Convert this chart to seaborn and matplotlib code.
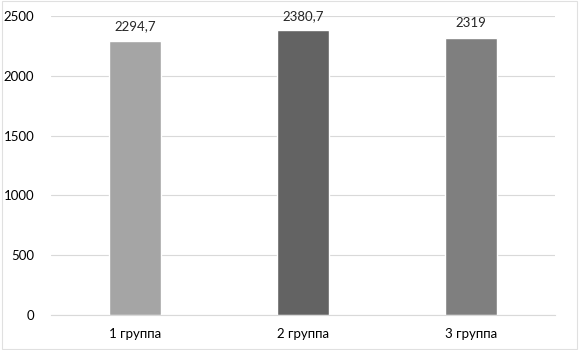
import matplotlib
matplotlib.use("Agg")
import matplotlib.pyplot as plt
import seaborn as sns
import pandas as pd

groups = ["1 группа", "2 группа", "3 группа"]
values = [2294.7, 2380.7, 2319]
labels = ["2294,7", "2380,7", "2319"]
colors = ["#A5A5A5", "#636363", "#7F7F7F"]

sns.set_style("white")
plt.rcParams["font.family"] = ["Lato", "DejaVu Sans"]

df = pd.DataFrame({"group": groups, "value": values})

fig = plt.figure(figsize=(5.79, 3.5), dpi=100)
ax = fig.add_axes([51 / 579, 35 / 350, 504 / 579, 299 / 350])

sns.barplot(data=df, x="group", y="value", hue="group", palette=colors,
            width=0.31, legend=False, saturation=1, ax=ax)

ax.set_ylim(0, 2500)
ax.set_yticks(range(0, 2501, 500))
ax.yaxis.grid(True, color="#D9D9D9", linewidth=0.8)
ax.set_axisbelow(True)
for s in ["top", "right", "left"]:
    ax.spines[s].set_visible(False)
ax.spines["bottom"].set_color("#D9D9D9")
ax.tick_params(axis="y", length=0, pad=12, labelsize=9.5, colors="#000000")
ax.tick_params(axis="x", length=0, pad=9, labelsize=9.5, colors="#000000")
ax.set_xlabel("")
ax.set_ylabel("")

for i, (v, t) in enumerate(zip(values, labels)):
    ax.annotate(t, (i, v), xytext=(0, 6), textcoords="offset points",
                ha="center", va="bottom", fontsize=9.5)

fig.patches.append(plt.Rectangle((0.003, 0.003), 0.994, 0.994, transform=fig.transFigure,
                                 fill=False, edgecolor="#E0E0E0", linewidth=0.8))

fig.savefig("out.png", dpi=100)
